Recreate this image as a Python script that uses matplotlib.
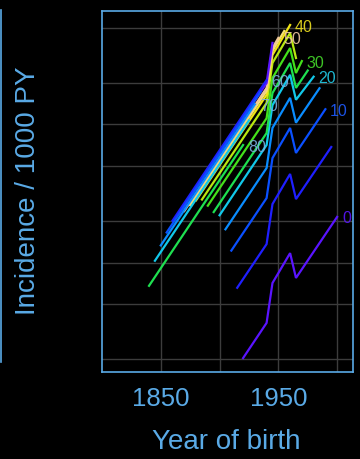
import numpy as np
import matplotlib
matplotlib.use('Agg')
import matplotlib.pyplot as plt
from matplotlib.lines import Line2D

# --- COLORS ---
BG = '#000000'; AXC = '#5aaae6'; GRID = '#3c3c3c'
PAL = ['#5a14ff', '#1f1fff', '#0a50ff', '#0a8cff', '#12c8ea', '#1ee050',
       '#44e01a', '#b8e810', '#f0e414', '#f6e070', '#f0c89a']
LABEL_COL = {0: '#5a14ff', 10: '#1f5cff', 20: '#22cce8', 30: '#44d82a',
             40: '#eee020', 50: '#f0c8a0', 60: '#78aee0', 70: '#78aee0', 80: '#78aee0'}

# --- DATA: rate per 1000 PY by age group, read at the polyline vertices ---
ages = [0, 5, 10, 15, 20, 25, 30, 35, 40, 45, 50, 55, 60, 65, 70, 75, 80]
cohorts = [
    [1920, 1940, 1945, 1960, 1965, 2000],
    [1915, 1940, 1945, 1960, 1965, 1995],
    [1910, 1940, 1945, 1960, 1965, 1990],
    [1905, 1940, 1945, 1960, 1965, 1985],
    [1900, 1940, 1945, 1960, 1965, 1980],
    [1895, 1940, 1945, 1960, 1965, 1975],
    [1890, 1940, 1945, 1960, 1965, 1970],
    [1885, 1940, 1945, 1960, 1965],
    [1880, 1940, 1945, 1960],
    [1875, 1940, 1945, 1955],
    [1870, 1940, 1945, 1950],
    [1865, 1940, 1945],
    [1860, 1940],
    [1855, 1935],
    [1850, 1930],
    [1845, 1925],
    [1840, 1920],
]
rates = [
    [0.203, 0.365, 0.71, 1.17, 0.773, 2.14],
    [0.656, 1.36, 2.65, 4.38, 2.88, 6.87],
    [1.22, 2.93, 5.71, 9.44, 6.22, 12.9],
    [1.74, 4.84, 9.44, 15.6, 10.3, 18.3],
    [2.20, 7.10, 13.8, 22.9, 15.1, 22.2],
    [2.32, 8.67, 16.9, 27.9, 18.4, 24.6],
    [2.58, 11.1, 21.7, 35.8, 23.6, 28.8],
    [2.86, 14.3, 27.9, 46.0, 30.3],
    [2.82, 16.4, 31.9, 52.6],
    [2.60, 17.5, 34.1, 47.6],
    [2.36, 18.4, 35.8, 42.4],
    [2.22, 20.0, 39.0],
    [2.01, 21.0],
    [1.65, 17.3],
    [1.33, 14.0],
    [1.03, 10.7],
    [0.678, 7.10],
]
xticks = [1850, 1900, 1950, 2000]
xtick_labels = ['1850', '', '1950', '']
yticks = [0.2, 0.5, 1, 2, 5, 10, 20, 50]

plt.rcParams['font.family'] = ['Liberation Sans', 'DejaVu Sans']

fig = plt.figure(figsize=(3.6, 4.59), dpi=100, facecolor=BG)
ax = fig.add_axes([102/360, 1-372/459, 251/360, 361/459], facecolor=BG)
ax.set_yscale('log')
ax.set_xlim(1800, 2013.5)
ax.set_ylim(0.161, 66.4)

for i, a in enumerate(ages):
    ax.plot(cohorts[i], rates[i], color=PAL[i % len(PAL)], lw=1.6,
            solid_joinstyle='miter', zorder=3)
    if a % 10 == 0:
        ax.annotate(str(a), (cohorts[i][-1], rates[i][-1]), xytext=(3.5, -1.5),
                    textcoords='offset points', ha='left', va='center',
                    fontsize=11.5, color=LABEL_COL[a], alpha=0.9, zorder=4)

# grid + axes styling
ax.set_xticks(xticks)
ax.set_xticklabels(xtick_labels)
ax.set_yticks(yticks)
ax.set_yticklabels([''] * len(yticks))
ax.yaxis.set_minor_locator(matplotlib.ticker.NullLocator())
ax.grid(True, color=GRID, lw=1.0, zorder=0)
ax.set_axisbelow(True)
ax.tick_params(axis='both', length=0, colors=AXC, labelsize=18.5, pad=11)
for s in ax.spines.values():
    s.set_color(AXC); s.set_linewidth(1.2)

fig.text(226/360, 1-442/459, 'Year of birth', color=AXC, fontsize=20,
         ha='center', va='center')
fig.text(28/360, 1-191/459, 'Incidence / 1000 PY', color=AXC, fontsize=20,
         ha='center', va='center', rotation=90)
fig.add_artist(Line2D([1.2/360, 1.2/360], [1-10/459, 1-362/459], color=AXC, lw=1.2))

fig.savefig('out.png', dpi=100, facecolor=BG)
